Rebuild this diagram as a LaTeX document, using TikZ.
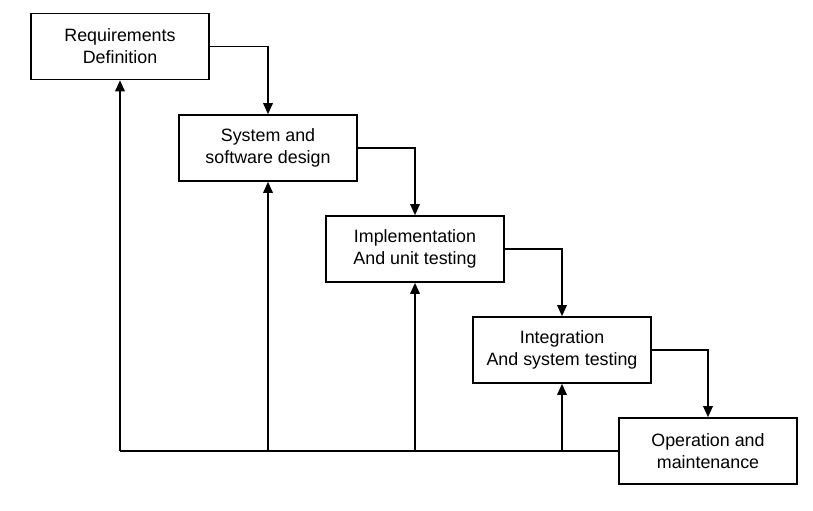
\documentclass[tikz,border=0pt]{standalone}
\usepackage{fontspec}
\setmainfont{Liberation Sans}
\usepackage{xcolor}
\usepackage{tikz}
\usetikzlibrary{calc,arrows.meta}
\tikzset{
  stage/.style={draw=black, line width=1.1pt, minimum width=4.45cm, minimum height=1.65cm,
    align=center, inner sep=0pt, font=\fontsize{12.7}{15.6}\selectfont},
  flow/.style={draw=black, line width=1.3pt, line join=miter, -{Triangle[width=0.24cm,length=0.28cm]}},
  back/.style={draw=black, line width=1.3pt}
}
\begin{document}
\begin{tikzpicture}[x=0.025cm, y=-0.025cm]
  \useasboundingbox (0,0) rectangle (813,511);
  \node[stage] (req) at (120,46.5) {Requirements\\Definition};
  \node[stage] (des) at (268,148) {System and\\software design};
  \node[stage] (imp) at (415,249) {Implementation\\And unit testing};
  \node[stage] (int) at (562,350) {Integration\\And system testing};
  \node[stage] (ops) at (708,451) {Operation and\\maintenance};
  \draw[flow] (req.east) -| (des.north);
  \draw[flow] (des.east) -| (imp.north);
  \draw[flow] (imp.east) -| (int.north);
  \draw[flow] (int.east) -| (ops.north);
  \coordinate (corner) at (req.south |- ops.west);
  \draw[back] (ops.west) -- (corner);
  \draw[flow] (corner) -- (req.south);
  \foreach \s in {des,imp,int}
    \draw[flow] (\s.south |- ops.west) -- (\s.south);
\end{tikzpicture}
\end{document}
